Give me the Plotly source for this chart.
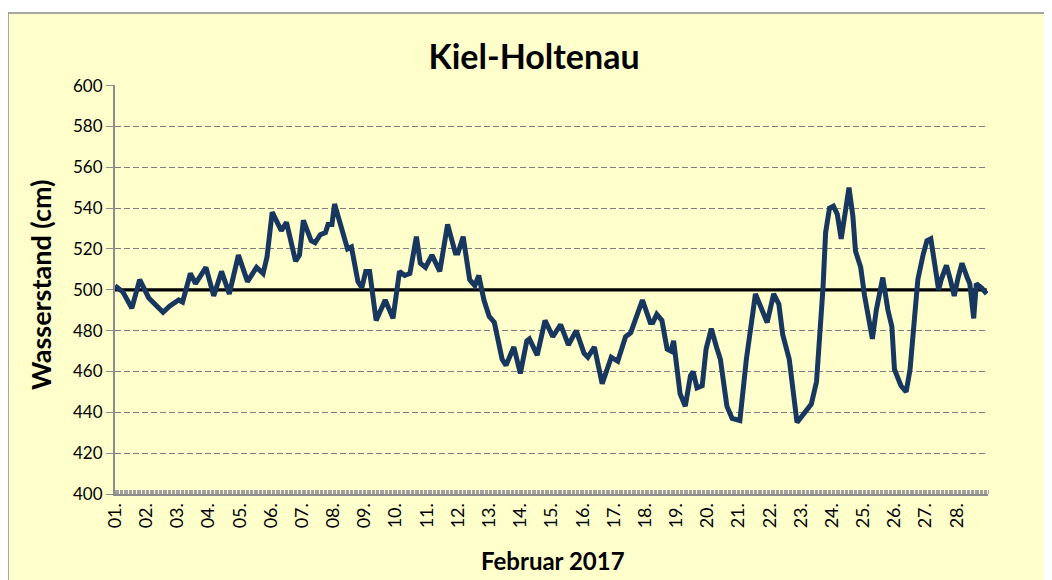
import datetime as dt
import plotly.graph_objects as go

# hours since 2017-02-01 00:00 and water level (cm)
hours = [0, 6, 13, 19, 26, 31, 37, 42, 49, 52, 58, 62, 70, 76, 82, 88, 95, 102, 109, 114,
         117, 121, 128, 132, 139, 142, 145, 151, 154, 158, 162, 164, 167, 169, 175, 179, 182,
         187, 190, 193, 196, 201, 208, 214, 219, 223, 227, 232, 235, 239, 244, 250, 256, 262,
         264, 268, 273, 277, 280, 284, 288, 292, 298, 301, 307, 312, 317, 319, 325, 331, 337,
         343, 349, 355, 361, 364, 369, 375, 382, 387, 393, 397, 406, 412, 414, 417, 421, 425,
         428, 430, 435, 439, 443, 445, 448, 452, 455, 459, 463, 466, 471, 475, 481, 486, 493,
         502, 507, 511, 514, 519, 525, 532, 536, 540, 543, 545, 547, 550, 553, 556, 559, 562,
         565, 568, 570, 574, 577, 583, 586, 591, 595, 598, 600, 605, 609, 612, 615, 618, 622,
         625, 628, 631, 634, 636, 640, 643, 646, 649, 652, 656, 658, 661, 663, 667, 671]
level = [502, 499, 491, 505, 496, 493, 489, 492, 495, 494, 508, 503, 511, 497, 509, 498, 517, 504,
         511, 508, 516, 538, 529, 533, 514, 517, 534, 524, 523, 527, 528, 532, 532, 542, 528, 520,
         521, 504, 501, 509, 509, 485, 495, 486, 509, 507, 508, 526, 513, 511, 517, 509, 532, 518,
         518, 526, 505, 502, 507, 495, 487, 484, 466, 463, 472, 459, 475, 476, 468, 485, 477, 483,
         473, 480, 469, 467, 472, 454, 467, 465, 477, 479, 495, 484, 484, 488, 485, 471, 470, 475,
         449, 443, 458, 460, 452, 453, 471, 481, 472, 466, 443, 437, 436, 466, 498, 484, 498, 493,
         478, 466, 435, 441, 444, 455, 480, 501, 528, 540, 541, 537, 525, 539, 550, 536, 519, 511,
         497, 476, 490, 506, 490, 482, 461, 453, 450, 461, 480, 505, 517, 524, 525, 511, 500, 505,
         512, 505, 497, 506, 513, 506, 503, 486, 503, 501, 498]

mean_level = [500, 500]
mean_hours = [0, 671]

start = dt.datetime(2017, 2, 1)
times = [start + dt.timedelta(hours=h) for h in hours]
mean_times = [start + dt.timedelta(hours=h) for h in mean_hours]

FONT = "Lato"
W, H = 1052, 580
OFF = 8  # page body margin
L, T = 115 - OFF, 85 - OFF
pw, ph = 873, 409
R, B = W - L - pw, H - T - ph

def px_x(px):
    return (px - OFF - L) / pw

def px_y(py):
    return (T + ph - (py - OFF)) / ph

fig = go.Figure()
fig.add_trace(go.Scatter(x=mean_times, y=mean_level, mode="lines",
                         line=dict(color="#000000", width=3.2), hoverinfo="skip", showlegend=False))
fig.add_trace(go.Scatter(x=times, y=level, mode="lines",
                         line=dict(color="#17375E", width=5, shape="linear"),
                         showlegend=False))

fig.update_layout(
    width=W, height=H,
    margin=dict(l=L, r=R, t=T, b=B),
    paper_bgcolor="#FFFFFF",
    plot_bgcolor="#FFFFFF",
    font=dict(family=FONT, color="#000000"),
    title=dict(text="<b>Kiel-Holtenau</b>", x=(534 - OFF) / W, xanchor="center",
               y=1 - (57 - OFF) / H, yanchor="middle",
               font=dict(family=FONT, size=34, color="#000000")),
    shapes=[dict(type="rect", xref="paper", yref="paper", layer="below",
                 x0=px_x(8), x1=px_x(1049), y0=px_y(600), y1=px_y(13),
                 fillcolor="#FFFFCC", line=dict(color="#8C8C8C", width=1.5))],
    annotations=[
        dict(text="<b>Wasserstand (cm)</b>", xref="paper", yref="paper",
             x=px_x(40), y=px_y(285), textangle=-90, showarrow=False,
             xanchor="center", yanchor="middle", font=dict(family=FONT, size=27)),
        dict(text="<b>Februar 2017</b>", xref="paper", yref="paper",
             x=px_x(553), y=px_y(560), showarrow=False,
             xanchor="center", yanchor="middle", font=dict(family=FONT, size=24)),
    ],
)

fig.update_xaxes(
    type="date",
    range=[start, start + dt.timedelta(days=28)],
    tickmode="array",
    tickvals=[start + dt.timedelta(days=d) for d in range(28)],
    tickformat="%d.", tickangle=-90,
    tickfont=dict(family=FONT, size=18),
    showgrid=False, showline=True, linecolor="#8C8C8C", linewidth=2,
    ticks="",
    minor=dict(dtick=3600000, ticks="inside", ticklen=4, tickcolor="#A0A0A0", showgrid=False),
    zeroline=False,
)
fig.update_yaxes(
    range=[400, 600.3], tickmode="linear", tick0=400, dtick=20,
    tickfont=dict(family=FONT, size=17),
    showgrid=True, gridcolor="#7F7F7F", griddash="6px,3px", gridwidth=1.2,
    showline=True, linecolor="#8C8C8C", linewidth=2,
    ticks="outside", ticklen=7, tickcolor="#8C8C8C",
    zeroline=False,
)

fig.write_html("out.html")
